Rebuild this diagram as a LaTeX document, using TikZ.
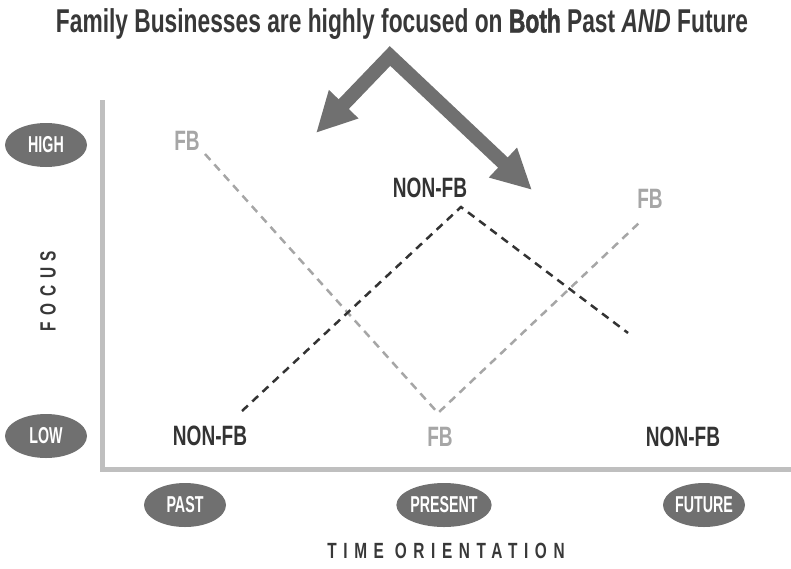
\documentclass[tikz,border=0pt]{standalone}
\usepackage{fontspec}
\setmainfont{Liberation Sans}[FakeStretch=0.7]
\newfontfamily\titlefont{Liberation Sans Bold}[FakeStretch=0.69]
\newfontfamily\labelfont{Liberation Sans Bold}[FakeStretch=0.68]
\newfontfamily\blobfont{Liberation Sans Bold}[FakeStretch=0.62]
\newfontfamily\spacedfont{Liberation Sans Bold}[FakeStretch=0.7, LetterSpace=30]
\usepackage{xcolor}
\colorlet{colorText}{black!78}
\colorlet{colorBlob}{black!56}
\colorlet{colorAxis}{black!25}
\colorlet{colorFB}{black!35}
\colorlet{colorNonFB}{black!80}
\usetikzlibrary{arrows.meta, shapes.geometric}
\tikzset{
  blob/.style={ellipse, fill=colorBlob, text=white, minimum width=82, minimum height=44, inner sep=0pt, font=\blobfont\fontsize{23}{23}\selectfont},
  curvelabel/.style={font=\labelfont\fontsize{28}{28}\selectfont, inner sep=0pt},
  fblabel/.style={curvelabel, text=colorFB},
  nonfblabel/.style={curvelabel, text=colorNonFB},
  axistitle/.style={text=colorText, font=\spacedfont\fontsize{22}{22}\selectfont},
  fbline/.style={colorFB, line width=2.5, dash pattern=on 8 off 6},
  nonfbline/.style={colorNonFB, line width=2.5, dash pattern=on 8 off 6},
}

\begin{document}
\begin{tikzpicture}[x=1pt, y=-1pt]
\useasboundingbox (0,0) rectangle (791,568);
% title
\node[text=colorText, font=\titlefont\fontsize{33}{33}\selectfont] (title) at (402,24) {Family Businesses are highly focused on {\addfontfeature{FakeBold=1.6}Both} Past \textit{AND} Future};
% the two-headed chevron
\coordinate (apex) at (390,56);
\coordinate (pasttip) at (316,133);
\coordinate (futuretip) at (532,190);
\draw[colorBlob, line width=14, line join=miter, {Triangle[length=40, width=38]}-{Triangle[length=40, width=38]}] (pasttip) -- (apex) -- (futuretip);
% axes
\coordinate (origin) at (102,469);
\coordinate (ytop) at (102,100);
\coordinate (xend) at (791,469);
\draw[colorAxis, line width=5] (ytop) -- (origin) -- (xend);
% axis markers
\node[blob] (high) at (46,145) {HIGH};
\node[blob] (low) at (46,436) {LOW};
\node[blob] (past) at (185,505) {PAST};
\node[blob] (present) at (444,505) {PRESENT};
\node[blob] (future) at (704,505) {FUTURE};
\node[axistitle, rotate=90] (focus) at (48,291) {FOCUS};
\node[axistitle] (timeor) at (446,551) {TIME ORIENTATION};
% curve labels
\node[fblabel] (fbpast) at (187,141) {FB};
\node[fblabel] (fbpresent) at (440,437) {FB};
\node[fblabel] (fbfuture) at (650,199) {FB};
\node[nonfblabel] (nonfbpast) at (210,436) {NON-FB};
\node[nonfblabel] (nonfbpresent) at (430,188) {NON-FB};
\node[nonfblabel] (nonfbfuture) at (683,437) {NON-FB};
% curves
\coordinate (fbA) at (205,154);
\coordinate (fbB) at (438,413);
\coordinate (fbC) at (640,222);
\coordinate (nfA) at (242,411);
\coordinate (nfB) at (461,207);
\coordinate (nfC) at (628,333);
\draw[fbline] (fbA) -- (fbB) -- (fbC);
\draw[nonfbline] (nfA) -- (nfB) -- (nfC);
\end{tikzpicture}
\end{document}
